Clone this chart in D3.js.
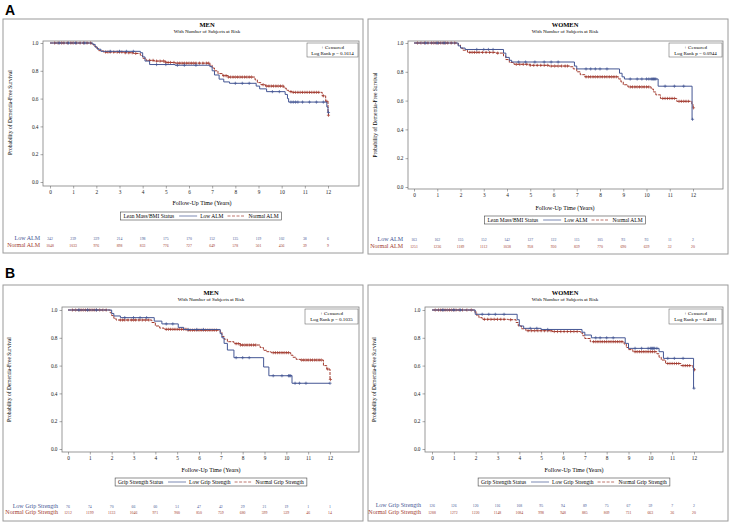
<!DOCTYPE html>
<html>
<head>
<meta charset="utf-8">
<script src="https://cdn.jsdelivr.net/npm/d3@7"></script>
<style>
body { margin: 0; background: #fff; }
text { font-family: "Liberation Serif", "DejaVu Serif", serif; }
</style>
</head>
<body>
<div id="chart"></div>
<script>
const W = 730, H = 523;
const blue = "#445694", red = "#A23A2E";

const years = [0,1,2,3,4,5,6,7,8,9,10,11,12];
const yTicks = [0.0,0.2,0.4,0.6,0.8,1.0];

// ---- Panel A, men: Kaplan-Meier steps [year, survival]
const aMenLow = [[0,1],[1.85,0.99],[1.95,0.97],[2.05,0.955],[2.2,0.94],[3.9,0.93],[4.0,0.9],[4.1,0.87],[4.3,0.845],[5.4,0.84],[6.9,0.83],[7.0,0.8],[7.1,0.77],[7.3,0.74],[7.5,0.72],[7.75,0.71],[8.9,0.69],[9.05,0.67],[9.35,0.65],[10.15,0.63],[10.25,0.6],[10.3,0.575],[11.95,0.54],[12.0,0.5],[12.02,0.5]];
const aMenNorm = [[0,1],[1.8,0.99],[1.9,0.975],[2.0,0.96],[2.1,0.945],[2.3,0.935],[3.2,0.93],[3.6,0.925],[3.9,0.91],[4.0,0.89],[4.15,0.875],[4.5,0.87],[5.0,0.86],[5.4,0.855],[6.9,0.84],[7.0,0.82],[7.1,0.8],[7.25,0.78],[7.45,0.765],[7.7,0.755],[8.85,0.735],[8.95,0.715],[9.1,0.7],[9.3,0.69],[10.1,0.675],[10.2,0.66],[10.3,0.65],[10.45,0.645],[11.75,0.62],[11.9,0.58],[12.0,0.5],[12.02,0.48]];
const aMenLowCens = [0.4,0.8,1.1,1.5,2.6,3.0,3.3,3.6,4.6,5.0,5.5,5.8,6.3,8.0,8.3,8.6,9.6,9.9,10.4,10.5,10.6,10.7,10.9,11.2,11.5,11.8,12.02];
const aMenNormCens = [0.2,0.35,0.5,0.6,0.75,0.9,1.0,1.15,1.3,1.45,1.6,1.75,2.4,2.5,2.6,2.75,2.9,3.0,3.1,3.25,3.4,3.55,3.7,4.3,4.45,4.6,4.75,4.9,5.0,5.1,5.2,5.35,5.5,5.6,5.7,5.8,5.9,6.0,6.1,6.2,6.3,6.45,6.6,6.75,6.85,7.5,7.6,7.7,7.8,7.9,8.0,8.1,8.2,8.3,8.4,8.5,8.6,8.7,9.2,9.35,9.45,9.55,9.65,9.75,9.85,9.95,10.05,10.4,10.5,10.6,10.7,10.8,10.9,11.0,11.1,11.2,11.3,11.4,11.5,11.6,11.8,11.95,12.02];

// ---- Panel A, women
const aWomLow = [[0,1],[1.9,0.98],[2.0,0.965],[2.2,0.955],[3.85,0.93],[3.95,0.9],[4.1,0.88],[4.2,0.868],[6.9,0.84],[7.0,0.82],[8.84,0.79],[8.95,0.765],[9.05,0.75],[10.5,0.7],[11.96,0.47],[11.98,0.47]];
const aWomNorm = [[0,1],[1.9,0.985],[2.0,0.965],[2.1,0.95],[2.3,0.935],[3.5,0.93],[3.85,0.91],[3.95,0.885],[4.1,0.865],[4.3,0.852],[5.0,0.845],[5.8,0.84],[6.7,0.835],[6.85,0.82],[7.0,0.8],[7.15,0.78],[7.35,0.765],[8.8,0.75],[8.9,0.73],[9.0,0.71],[9.2,0.695],[10.2,0.68],[10.3,0.66],[10.4,0.64],[10.6,0.615],[11.3,0.595],[11.95,0.575],[12.0,0.55],[12.02,0.55]];
const aWomLowCens = [0.5,1.0,1.3,2.7,3.0,3.2,3.4,4.5,4.8,5.2,5.6,5.9,6.2,7.4,7.6,7.8,8.0,8.3,9.3,9.6,9.8,10.0,10.1,10.2,10.25,10.3,10.35,10.4,10.8,11.2,11.6,11.98];
const aWomNormCens = [0.15,0.3,0.45,0.6,0.75,0.85,0.95,1.05,1.15,1.25,1.35,1.45,1.6,1.75,2.4,2.5,2.6,2.7,2.8,2.95,3.1,3.25,3.4,3.6,4.4,4.55,4.7,4.85,5.0,5.15,5.3,5.45,5.6,5.75,5.9,6.05,6.2,6.35,6.5,6.6,7.4,7.5,7.6,7.7,7.8,7.9,8.0,8.1,8.2,8.3,8.4,8.5,8.6,8.7,9.3,9.4,9.5,9.6,9.7,9.8,9.9,10.0,10.1,10.7,10.8,10.9,11.0,11.1,11.2,11.4,11.5,11.6,11.7,11.8,12.02];

// ---- Panel B, men
const bMenLow = [[0,1],[2.0,0.975],[2.1,0.957],[2.4,0.945],[3.95,0.92],[4.3,0.9],[5.05,0.875],[5.3,0.86],[6.97,0.83],[7.05,0.8],[7.15,0.76],[7.3,0.712],[7.6,0.657],[8.96,0.59],[9.2,0.527],[10.26,0.473],[12.0,0.473]];
const bMenNorm = [[0,1],[1.93,0.98],[2.0,0.96],[2.1,0.94],[2.2,0.928],[3.84,0.91],[4.0,0.885],[4.2,0.87],[4.4,0.861],[5.5,0.855],[6.97,0.84],[7.05,0.81],[7.15,0.79],[7.3,0.772],[7.6,0.758],[7.9,0.748],[8.8,0.73],[8.95,0.71],[9.1,0.7],[9.3,0.693],[10.2,0.675],[10.3,0.66],[10.45,0.645],[10.65,0.64],[11.7,0.6],[11.85,0.575],[12.0,0.5],[12.02,0.5]];
const bMenLowCens = [0.5,0.9,1.3,2.6,3.0,3.3,3.6,4.5,4.8,5.5,5.9,6.2,7.7,8.0,8.3,9.4,9.8,10.1,10.15,10.2,10.4,10.6,10.9,12.0];
const bMenNormCens = [0.2,0.35,0.5,0.6,0.7,0.8,0.9,1.0,1.1,1.2,1.3,1.45,1.6,1.75,2.4,2.5,2.6,2.75,2.9,3.0,3.1,3.25,3.4,3.55,3.7,4.5,4.6,4.7,4.8,4.9,5.0,5.1,5.2,5.3,5.4,5.5,5.6,5.7,5.8,5.9,6.0,6.1,6.2,6.3,6.4,6.5,6.6,6.7,6.8,7.7,7.8,7.9,8.0,8.1,8.2,8.3,8.4,8.5,8.6,9.4,9.5,9.6,9.7,9.8,9.9,10.0,10.1,10.7,10.8,10.9,11.0,11.1,11.2,11.3,11.4,11.5,11.6,11.9,12.02];

// ---- Panel B, women
const bWomLow = [[0,1],[1.98,0.969],[3.9,0.93],[4.0,0.885],[4.2,0.868],[5.0,0.86],[6.87,0.84],[7.0,0.82],[7.3,0.8],[8.85,0.76],[9.0,0.724],[10.4,0.7],[10.6,0.652],[11.98,0.437],[12.0,0.437]];
const bWomNorm = [[0,1],[1.95,0.985],[2.05,0.96],[2.15,0.945],[2.3,0.933],[3.5,0.93],[3.85,0.91],[3.95,0.885],[4.1,0.865],[4.3,0.851],[5.5,0.845],[6.8,0.835],[6.9,0.815],[7.0,0.795],[7.25,0.772],[8.8,0.755],[8.9,0.73],[9.0,0.715],[9.2,0.7],[10.3,0.685],[10.4,0.66],[10.5,0.64],[10.7,0.615],[11.4,0.6],[11.95,0.585],[12.0,0.57],[12.02,0.57]];
const bWomLowCens = [0.5,1.0,1.3,2.3,2.6,2.9,3.3,4.5,4.8,5.3,7.5,7.7,8.0,8.3,9.3,9.6,9.9,10.0,10.05,10.1,10.15,10.2,10.3,10.8,11.1,11.5,12.0];
const bWomNormCens = [0.15,0.3,0.4,0.5,0.6,0.7,0.8,0.9,1.0,1.1,1.25,1.4,1.6,1.8,2.4,2.55,2.7,2.85,3.0,3.15,3.3,3.6,4.4,4.55,4.7,4.85,5.0,5.15,5.3,5.45,5.6,5.75,5.9,6.05,6.2,6.35,6.5,6.65,7.4,7.5,7.6,7.7,7.8,7.9,8.0,8.1,8.2,8.3,8.4,8.5,8.6,8.7,9.3,9.4,9.5,9.6,9.7,9.8,9.9,10.0,10.1,10.2,10.8,10.9,11.0,11.1,11.2,11.3,11.5,11.6,11.7,11.8,12.02];

// ---- numbers at risk
const riskAMenLow = [242,239,229,214,198,175,170,152,135,119,102,38,6];
const riskAMenNorm = [1048,1033,976,898,833,776,727,649,578,501,456,39,9];
const riskAWomLow = [163,162,155,152,142,127,122,115,105,93,93,11,2];
const riskAWomNorm = [1251,1236,1189,1112,1038,958,930,839,770,690,639,32,20];
const riskBMenLow = [76,74,70,66,60,51,47,42,29,21,19,1,1];
const riskBMenNorm = [1212,1199,1133,1046,971,900,850,759,680,599,539,46,14];
const riskBWomLow = [126,126,120,116,108,95,94,89,75,67,59,7,2];
const riskBWomNorm = [1288,1272,1220,1148,1084,998,948,885,809,731,663,36,20];

const groupsA = ["Low ALM", "Normal ALM"];
const groupsB = ["Low Grip Strength", "Normal Grip Strength"];

const svg = d3.select("#chart").append("svg")
  .attr("width", W).attr("height", H);
svg.append("rect").attr("width", W).attr("height", H).attr("fill", "#fff");

// panel letters
svg.append("text").attr("x", 5).attr("y", 15).text("A")
  .style("font-family", "Liberation Sans, Arial, sans-serif").style("font-weight", "bold").style("font-size", "14px");
svg.append("text").attr("x", 5).attr("y", 278).text("B")
  .style("font-family", "Liberation Sans, Arial, sans-serif").style("font-weight", "bold").style("font-size", "14px");

function survAt(curve, t) {
  let s = 1;
  for (const [tt, ss] of curve) if (tt <= t) s = ss;
  return s;
}

function drawPanel(p) {
  const g = svg.append("g");
  // outer frame
  g.append("rect").attr("x", p.frame[0]).attr("y", p.frame[1])
    .attr("width", p.frame[2] - p.frame[0]).attr("height", p.frame[3] - p.frame[1])
    .attr("fill", "none").attr("stroke", "#9a9a9a").attr("stroke-width", 1);

  const x = d3.scaleLinear().domain([0, 12]).range(p.xr);
  const y = d3.scaleLinear().domain([0, 1]).range(p.yr);

  g.append("text").attr("x", p.titleX).attr("y", p.titleY).attr("text-anchor", "middle")
    .style("font-size", "6.5px").style("font-weight", "bold").text(p.title);
  g.append("text").attr("x", p.titleX).attr("y", p.titleY + 6).attr("text-anchor", "middle")
    .style("font-size", "5px").text("With Number of Subjects at Risk");

  // plot wall
  g.append("rect").attr("x", p.plot[0]).attr("y", p.plot[1])
    .attr("width", p.plot[2] - p.plot[0]).attr("height", p.plot[3] - p.plot[1])
    .attr("fill", "none").attr("stroke", "#808080").attr("stroke-width", 0.8);

  // y axis
  const ya = g.append("g").attr("transform", `translate(${p.plot[0]},0)`)
    .call(d3.axisLeft(y).tickValues(yTicks).tickFormat(d3.format(".1f")).tickSize(2.5).tickPadding(2));
  ya.select(".domain").remove();
  ya.selectAll("line").attr("stroke", "#555").attr("stroke-width", 0.5);
  ya.selectAll("text").style("font-size", "5.3px").style("font-family", "Liberation Serif").attr("fill", "#222");

  // x axis
  const xa = g.append("g").attr("transform", `translate(0,${p.plot[3]})`)
    .call(d3.axisBottom(x).tickValues(years).tickFormat(d3.format("d")).tickSize(2.5).tickPadding(2));
  xa.select(".domain").remove();
  xa.selectAll("line").attr("stroke", "#555").attr("stroke-width", 0.5);
  xa.selectAll("text").style("font-size", "5.3px").style("font-family", "Liberation Serif").attr("fill", "#222");

  g.append("text").attr("x", p.xTitleX).attr("y", p.xTitleY).attr("text-anchor", "middle")
    .style("font-size", "6px").text("Follow-Up Time (Years)");
  g.append("text").attr("transform", `translate(${p.yLabX},${(p.yr[0] + p.yr[1]) / 2}) rotate(-90)`)
    .attr("text-anchor", "middle").style("font-size", "5.5px").text("Probability of Dementia-Free Survival");

  // curves
  const line = d3.line().x(d => x(d[0])).y(d => y(d[1])).curve(d3.curveStepAfter);
  const series = [
    { data: p.norm, cens: p.normCens, color: red, dash: "3,1" },
    { data: p.low, cens: p.lowCens, color: blue, dash: null }
  ];
  series.forEach(s => {
    g.append("path").datum(s.data).attr("d", line).attr("fill", "none")
      .attr("stroke", s.color).attr("stroke-width", 1)
      .attr("stroke-dasharray", s.dash);
    g.selectAll(null).data(s.cens).enter().append("path")
      .attr("transform", d => `translate(${x(d)},${y(survAt(s.data, d))})`)
      .attr("d", "M-1.6,0H1.6M0,-1.6V1.6")
      .attr("stroke", s.color).attr("stroke-width", 0.7).attr("fill", "none");
  });

  // censored / log rank inset
  const cb = p.censBox;
  g.append("rect").attr("x", cb[0]).attr("y", cb[1]).attr("width", cb[2] - cb[0]).attr("height", cb[3] - cb[1])
    .attr("fill", "#fff").attr("stroke", "#555").attr("stroke-width", 0.5);
  g.append("text").attr("x", (cb[0] + cb[2]) / 2).attr("y", cb[1] + 5.5).attr("text-anchor", "middle")
    .style("font-size", "5px").text("+ Censored");
  g.append("text").attr("x", (cb[0] + cb[2]) / 2).attr("y", cb[1] + 12).attr("text-anchor", "middle")
    .style("font-size", "5px").text("Log Rank p = " + p.pval);

  // legend
  const lg = g.append("g");
  const ly = p.legY;
  let lx = 0;
  const t0 = lg.append("text").attr("x", lx).attr("y", ly + 2).style("font-size", "5.5px").text(p.legTitle);
  lx += t0.node().getComputedTextLength() + 5;
  [[blue, null, p.groups[0]], [red, "3,1.5", p.groups[1]]].forEach(([c, dsh, lab]) => {
    lg.append("line").attr("x1", lx).attr("x2", lx + 18).attr("y1", ly).attr("y2", ly)
      .attr("stroke", c).attr("stroke-width", 0.7).attr("stroke-dasharray", dsh);
    lx += 21;
    const t = lg.append("text").attr("x", lx).attr("y", ly + 2).style("font-size", "5.5px").text(lab);
    lx += t.node().getComputedTextLength() + 4;
  });
  const lw = lx - 4;
  const left = p.legCX - lw / 2;
  lg.attr("transform", `translate(${left},0)`);
  g.append("rect").attr("x", left - 3).attr("y", ly - 4).attr("width", lw + 6).attr("height", 8)
    .attr("fill", "none").attr("stroke", "#444").attr("stroke-width", 0.6);

  // numbers at risk
  [[p.riskLow, blue, p.groups[0]], [p.riskNorm, red, p.groups[1]]].forEach(([vals, c, lab], i) => {
    const ry = p.riskY[i];
    g.append("text").attr("x", p.riskLabX).attr("y", ry).attr("text-anchor", "end")
      .attr("fill", c).style("font-size", "6px").text(lab);
    g.selectAll(null).data(vals).enter().append("text")
      .attr("x", (d, j) => x(years[j])).attr("y", ry).attr("text-anchor", "middle")
      .attr("fill", c).style("font-size", "3.8px").text(d => d);
  });
}

const panels = [
  { title: "MEN", frame: [3, 19, 363, 253], plot: [43, 41, 359, 186], xr: [50, 328], yr: [182, 43],
    titleX: 207, titleY: 27, xTitleX: 202, xTitleY: 205, yLabX: 12,
    low: aMenLow, norm: aMenNorm, lowCens: aMenLowCens, normCens: aMenNormCens,
    censBox: [307, 43, 358, 57], pval: "0.1614",
    legTitle: "Lean Mass/BMI Status", groups: groupsA, legCX: 201, legY: 216,
    riskLow: riskAMenLow, riskNorm: riskAMenNorm, riskY: [240, 247], riskLabX: 40 },
  { title: "WOMEN", frame: [368, 19, 728, 254], plot: [408, 41, 723, 189], xr: [414, 693], yr: [187, 43],
    titleX: 565, titleY: 27, xTitleX: 565, xTitleY: 210, yLabX: 377,
    low: aWomLow, norm: aWomNorm, lowCens: aWomLowCens, normCens: aWomNormCens,
    censBox: [669, 43, 722, 57], pval: "0.0944",
    legTitle: "Lean Mass/BMI Status", groups: groupsA, legCX: 565, legY: 220,
    riskLow: riskAWomLow, riskNorm: riskAWomNorm, riskY: [241, 248], riskLabX: 403 },
  { title: "MEN", frame: [3, 285, 363, 521], plot: [62, 307, 359, 452], xr: [68, 330], yr: [449, 310],
    titleX: 211, titleY: 295, xTitleX: 211, xTitleY: 472, yLabX: 11,
    low: bMenLow, norm: bMenNorm, lowCens: bMenLowCens, normCens: bMenNormCens,
    censBox: [305, 309, 358, 324], pval: "0.1035",
    legTitle: "Grip Strength Status", groups: groupsB, legCX: 211, legY: 482,
    riskLow: riskBMenLow, riskNorm: riskBMenNorm, riskY: [508, 514], riskLabX: 58 },
  { title: "WOMEN", frame: [368, 285, 728, 521], plot: [425, 307, 723, 452], xr: [432, 694], yr: [449, 310],
    titleX: 565, titleY: 295, xTitleX: 574, xTitleY: 472, yLabX: 376,
    low: bWomLow, norm: bWomNorm, lowCens: bWomLowCens, normCens: bWomNormCens,
    censBox: [669, 309, 722, 324], pval: "0.4881",
    legTitle: "Grip Strength Status", groups: groupsB, legCX: 574, legY: 482,
    riskLow: riskBWomLow, riskNorm: riskBWomNorm, riskY: [507, 514], riskLabX: 421 }
];

panels.forEach(drawPanel);
</script>
</body>
</html>
